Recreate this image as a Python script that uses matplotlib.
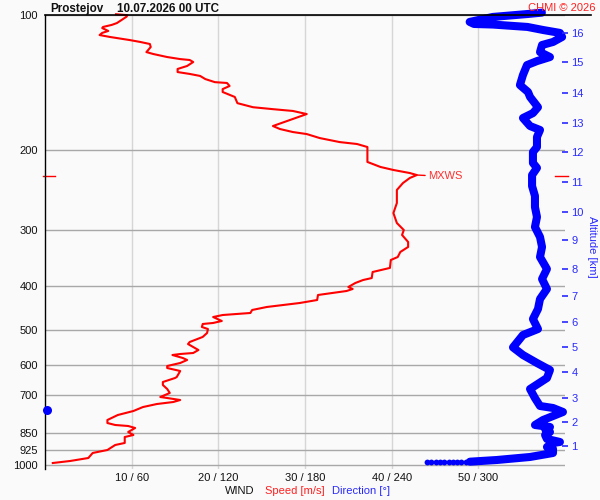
import matplotlib
matplotlib.use('Agg')
import matplotlib.pyplot as plt
from matplotlib.ticker import FixedLocator, NullLocator
from matplotlib.lines import Line2D

plt.rcParams['font.family'] = ['Liberation Sans', 'DejaVu Sans']

# ---------------- data ----------------
p_levels = [100, 200, 300, 400, 500, 600, 700, 850, 925, 1000]
p_labels = ['100', '200', '300', '400', '500', '600', '700', '850', '925', '1000']
x_ticks = [10, 20, 30, 40, 50]
x_labels = ['10 / 60', '20 / 120', '30 / 180', '40 / 240', '50 / 300']

alt_km = ['1', '2', '3', '4', '5', '6', '7', '8', '9', '10', '11', '12', '13', '14', '15', '16']
alt_p = [907, 802, 710, 621, 547, 481, 421, 367, 316, 274, 235, 201.6, 173.8, 149, 127.2, 109.6]

# wind speed profile [m/s] vs pressure [hPa]
spd_p = [99.6, 100.1, 100.9, 102.1, 104.2, 105.2, 106.3, 106.9, 108.5, 109.6, 110.8,
         111.9, 113.7, 114.8, 116.0, 117.8, 120.9, 122.1, 124.0, 125.3, 125.9,
         127.2, 129.8, 131.8, 133.9, 135.2, 136.6, 138.8, 141.0, 141.6, 143.8,
         146.1, 148.3, 152.1, 157.0, 160.3, 161.9, 163.4, 166.0, 170.2, 176.5,
         179.2, 182.0, 183.9, 187.7, 191.6, 193.5, 196.5, 206.8, 212.1, 217.6,
         221.0, 224.5, 226.8, 230.2, 236.3, 244.8, 261.7, 275.5, 289.9, 300.5,
         308.2, 319.5, 327.7, 336.2, 345.0, 350.3, 364.8, 372.5, 384.2, 388.1,
         394.1, 402.2, 406.3, 410.5, 414.7, 419.0, 429.9, 436.5, 441.0, 445.5,
         452.4, 459.4, 464.2, 469.0, 478.6, 483.5, 486.0, 493.5, 498.7, 508.9,
         519.3, 532.9, 538.5, 555.2, 563.8, 566.7, 569.6, 578.4, 584.3, 593.4,
         602.6, 608.8, 618.2, 637.5, 640.8, 654.0, 664.1, 677.8, 691.8, 706.2,
         709.8, 717.1, 724.5, 732.0, 743.4, 758.6, 774.3, 794.3, 806.7, 814.9,
         819.1, 827.5, 844.6, 857.7, 866.6, 893.4, 902.7, 926.1, 940.4, 964.8,
         979.7, 989.9]
spd = [8.2, 9.5, 9.4, 9.0, 8.3, 7.7, 6.7, 6.6, 7.3, 6.6, 6.3,
       7.5, 9.8, 11.0, 12.1, 12.2, 11.7, 12.5, 14.1, 15.6, 16.7,
       17.1, 16.4, 15.3, 15.3, 16.7, 17.9, 18.5, 19.6, 21.0, 21.3,
       20.5, 20.5, 21.9, 22.2, 24.0, 26.3, 28.6, 30.2, 28.6, 26.3,
       27.1, 28.6, 30.2, 31.7, 34.0, 36.0, 37.2, 37.2, 37.2, 38.7,
       40.2, 42.1, 42.9, 42.1, 41.3, 40.6, 40.6, 40.2, 40.6, 41.4,
       41.2, 41.9, 41.9, 41.0, 40.7, 39.9, 39.8, 37.8, 37.7, 36.7,
       35.8, 35.0, 35.5, 34.8, 33.2, 31.5, 31.4, 29.4, 27.5, 25.6,
       23.9, 23.7, 20.5, 19.4, 20.4, 19.4, 18.2, 18.1, 18.8, 18.7,
       18.2, 16.7, 16.5, 17.7, 17.1, 15.6, 14.7, 15.9, 16.4, 15.6,
       14.1, 14.1, 15.6, 15.2, 15.0, 13.6, 13.6, 14.1, 14.4, 13.3,
       14.1, 15.6, 14.8, 12.9, 11.3, 10.2, 8.4, 7.2, 7.2, 8.1,
       9.6, 10.4, 9.6, 10.2, 9.2, 9.2, 8.1, 7.2, 5.5, 5.0,
       2.9, 0.9]

# wind direction profile [deg] vs pressure [hPa]
dir_p = [98.8, 99.5, 101.0, 103.6, 104.7, 105.0, 106.3, 108.0, 109.6, 111.9,
         114.8, 116.6, 120.9, 124.0, 126.6, 129.2, 135.9, 143.1, 148.3, 152.1,
         160.3, 165.2, 169.4, 176.5, 180.1, 186.7, 196.5, 201.6, 213.2, 218.7,
         226.8, 240.0, 252.4, 267.1, 281.1, 295.9, 311.4, 327.7, 345.0, 366.8,
         386.1, 406.3, 427.7, 450.1, 473.8, 498.7, 514.2, 547.8, 569.6, 593.4,
         615.0, 640.8, 677.8, 710.0, 739.4, 747.0, 762.4, 778.3, 794.3, 814.9,
         823.3, 831.8, 844.6, 857.7, 875.4, 888.9, 893.4, 911.9, 921.3, 940.4,
         959.8, 974.7, 983.2]
wdir = [344, 334, 310, 294, 297, 310, 334, 345, 356.5, 358,
        351.7, 344.1, 342.7, 349.6, 340.6, 333.7, 330.9, 328.8, 334.4, 335.8,
        341.3, 337.8, 330.9, 335.8, 342.7, 340.6, 340.6, 337.8, 337.8, 340.6,
        337.2, 337.2, 339.2, 339.2, 340.6, 339.2, 342.7, 344.1, 342.7, 347.5,
        344.1, 347.5, 342.7, 341.3, 337.8, 341.3, 330.9, 324.0, 330.9, 340.6,
        349.6, 347.5, 335.8, 339.2, 342.7, 351.7, 358.6, 351.7, 344.8, 339.2,
        349.6, 346.2, 349.6, 346.2, 347.5, 356.5, 351.7, 347.5, 351.7, 351.7,
        335.8, 312.9, 294.2]

# near-surface direction samples (drawn as separate dots)
sfc_dir = [264.5, 267.5, 270.4, 273.4, 276.4, 279.4, 282.3, 285.3, 288.3, 291.3]
sfc_p = [983.2, 983.2, 983.2, 983.2, 983.2, 983.2, 983.2, 983.2, 983.2, 983.2]

# direction sample wrapped past 360 deg
wrap_dir = [1.4]
wrap_p = [754.7]

mxws_speed = 42.9
mxws_p = 226.8
mxws_mark_p = 228.0

RED = '#ff0000'
BLUE = '#0000ff'
BG = '#fafafa'

# ---------------- figure ----------------
fig = plt.figure(figsize=(6, 5), dpi=100, facecolor=BG)
ax = fig.add_axes([45 / 600, 1 - 469 / 500, 520 / 600, 454 / 500])
ax.set_facecolor(BG)
ax.set_yscale('log')
ax.set_xlim(0, 60)
ax.set_ylim(1020.7, 100)

ax.yaxis.set_major_locator(FixedLocator(p_levels))
ax.yaxis.set_minor_locator(NullLocator())
ax.set_yticklabels(p_labels)
ax.set_xticks(x_ticks)
ax.set_xticklabels(x_labels)
ax.tick_params(axis='y', length=0, pad=5, labelsize=8, colors='#111111')
ax.tick_params(axis='x', length=0, pad=3, labelsize=8, colors='#111111')

ax.grid(axis='y', color='#a8a8a8', lw=1.0)
ax.grid(axis='x', color='#d6d6d6', lw=1.0)
ax.set_axisbelow(True)

for s in ['top', 'right', 'bottom']:
    ax.spines[s].set_visible(False)
ax.spines['left'].set_color('black')
ax.spines['left'].set_linewidth(1.0)

# top black line (extends past plot area)
fig.add_artist(Line2D([45 / 600, 591 / 600], [1 - 15 / 500, 1 - 15 / 500],
                      color='black', lw=1.2))

# speed
ax.plot(spd, spd_p, color=RED, lw=1.5, clip_on=False, zorder=3)

# direction (scaled: 360 deg == 60 m/s on the same axis)
ax.plot([d / 6 for d in wdir], dir_p, color=BLUE, lw=5.8, solid_capstyle='round',
        solid_joinstyle='round', clip_on=False, zorder=4)
ax.plot([d / 6 for d in sfc_dir], sfc_p, 'o', color=BLUE, ms=4.2, mec='none',
        clip_on=False, zorder=4)
ax.plot([d / 6 for d in wrap_dir], wrap_p, 'o', color=BLUE, ms=6.5, mec='none',
        clip_on=False, zorder=4)

# MXWS marker
ax.annotate('MXWS', xy=(mxws_speed, mxws_p), xytext=(8, -1), textcoords='offset points',
            ha='left', va='center', color='#ff3030', fontsize=8,
            arrowprops=dict(arrowstyle='-', color=RED, lw=1.0, shrinkA=0, shrinkB=0))
trans = ax.get_yaxis_transform()
ax.plot([-2 / 520, 10 / 520], [mxws_mark_p, mxws_mark_p], transform=trans,
        color=RED, lw=1.0, clip_on=False)
ax.plot([510 / 520, 523 / 520], [mxws_mark_p, mxws_mark_p], transform=trans,
        color=RED, lw=1.0, clip_on=False)

# altitude axis
ax2 = ax.twinx()
ax2.set_yscale('log')
ax2.set_ylim(ax.get_ylim())
ax2.yaxis.set_major_locator(FixedLocator(alt_p))
ax2.yaxis.set_minor_locator(NullLocator())
ax2.set_yticklabels(alt_km)
ax2.tick_params(axis='y', direction='inout', length=5, width=1.2, pad=2,
                labelsize=8, colors='#2a2aff')
for s in ax2.spines.values():
    s.set_visible(False)
ax2.patch.set_visible(False)

fig.text(592 / 600, 1 - 247 / 500, 'Altitude [km]', rotation=270, color='#2a2aff',
         ha='center', va='center', fontsize=8)

# titles
fig.text(50 / 600, 1 - 11.7 / 500, 'Prostejov', fontweight='bold', fontsize=8.4,
         ha='left', va='baseline', color='#111111')
fig.text(117 / 600, 1 - 11.7 / 500, '10.07.2026 00 UTC', fontweight='bold', fontsize=8.4,
         ha='left', va='baseline', color='#111111')
fig.text(596 / 600, 1 - 11 / 500, 'CHMI \u00a9 2026', fontsize=8, color='#ff2020',
         ha='right', va='baseline')

# bottom legend texts
fig.text(225 / 600, 1 - 491 / 500, 'WIND', fontsize=8, color='#111111', ha='left', va='center')
fig.text(265 / 600, 1 - 491 / 500, 'Speed [m/s]', fontsize=8, color='#ff2020', ha='left', va='center')
fig.text(332 / 600, 1 - 491 / 500, 'Direction [\u00b0]', fontsize=8, color='#2a2aff', ha='left', va='center')

fig.savefig('out.png', dpi=100, facecolor=BG)
